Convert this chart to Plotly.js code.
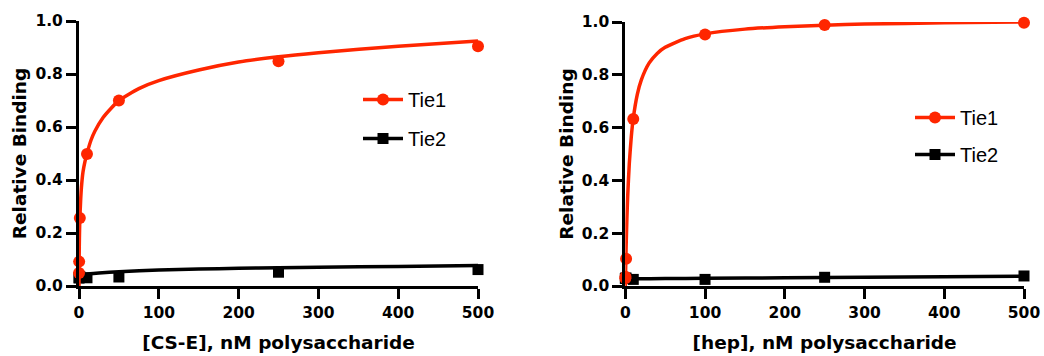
<!DOCTYPE html>
<html>
<head>
<meta charset="utf-8">
<script src="https://cdn.plot.ly/plotly-3.0.1.min.js"></script>
<style>html,body{margin:0;padding:0;background:#fff;}#chart{width:1044px;height:356px;}</style>
</head>
<body>
<div id="chart"></div>
<script>
// ---------- Data ----------
const seriesNames = ["Tie1", "Tie2"];
const xTicks = [0, 100, 200, 300, 400, 500];
const yTicks = [0.0, 0.2, 0.4, 0.6, 0.8, 1.0];

// Left panel: [CS-E]
const csX = [0.05, 0.2, 1, 10, 50, 250, 500];
const csTie1 = [0.049, 0.092, 0.257, 0.498, 0.700, 0.848, 0.905];
const csTie2 = [0.030, 0.032, 0.035, 0.031, 0.034, 0.052, 0.062];
// fitted curves
const csFitX1 = [0, 0.25, 0.5, 1, 2, 3, 5, 7.5, 10, 15, 20, 30, 40, 50, 75, 100, 150, 200, 250, 300, 400, 500];
const csFitTie1 = [0, 0.12, 0.18, 0.25, 0.32, 0.37, 0.43, 0.47, 0.50, 0.55, 0.585, 0.635, 0.67, 0.70, 0.745, 0.775, 0.815, 0.845, 0.865, 0.88, 0.905, 0.925];
const csFitX2 = [0, 1, 5, 10, 25, 50, 100, 150, 200, 250, 300, 400, 500];
const csFitTie2 = [0.032, 0.040, 0.043, 0.045, 0.049, 0.054, 0.060, 0.064, 0.067, 0.069, 0.071, 0.074, 0.077];

// Right panel: [hep]
const hepX = [0.05, 0.2, 1, 10, 100, 250, 500];
const hepTie1 = [0.029, 0.035, 0.103, 0.633, 0.953, 0.989, 0.997];
const hepTie2 = [0.029, 0.029, 0.030, 0.025, 0.025, 0.033, 0.038];
const hepFitX1 = [0, 1, 2, 3, 5, 7.5, 10, 15, 20, 30, 40, 50, 75, 100, 150, 200, 250, 300, 400, 500];
const hepFitTie1 = [0, 0.146, 0.255, 0.340, 0.463, 0.565, 0.635, 0.725, 0.780, 0.845, 0.881, 0.904, 0.937, 0.955, 0.973, 0.982, 0.988, 0.992, 0.997, 1.0];
const hepFitX2 = [0, 10, 50, 100, 200, 300, 400, 500];
const hepFitTie2 = [0.026, 0.027, 0.028, 0.029, 0.031, 0.033, 0.035, 0.037];

const xTitles = ["[CS-E], nM polysaccharide", "[hep], nM polysaccharide"];
const yTitle = "Relative Binding";

// ---------- Styles ----------
const RED = "rgb(255,38,0)";
const BLACK = "#000000";
const boldFont = {family: "DejaVu Sans", size: 15.5, color: "#000", weight: 700};
const titleFont = {family: "DejaVu Sans", size: 18.5, color: "#000", weight: 700};
const legendFont = {family: "Liberation Sans, Arial", size: 20, color: "#000"};

function panelTraces(xa, ya, leg, dx, d1, d2, fx1, f1, fx2, f2) {
  return [
    {x: fx2, y: f2, xaxis: xa, yaxis: ya, mode: "lines", line: {color: BLACK, width: 3.5, shape: "spline", smoothing: 0.6}, showlegend: false, cliponaxis: false, hoverinfo: "skip"},
    {x: dx, y: d2, xaxis: xa, yaxis: ya, mode: "markers", marker: {symbol: "square", size: 11, color: BLACK}, showlegend: false, cliponaxis: false},
    {x: fx1, y: f1, xaxis: xa, yaxis: ya, mode: "lines", line: {color: RED, width: 3.5, shape: "spline", smoothing: 0.6}, showlegend: false, cliponaxis: false, hoverinfo: "skip"},
    {x: dx, y: d1, xaxis: xa, yaxis: ya, mode: "markers", marker: {symbol: "circle", size: 12, color: RED}, showlegend: false, cliponaxis: false},
    // legend entries (line + marker), bound to the same series names
    {x: [null], y: [null], xaxis: xa, yaxis: ya, mode: "lines+markers", name: seriesNames[0], legend: leg, legendgroup: leg + "a",
     line: {color: RED, width: 3.5}, marker: {symbol: "circle", size: 12, color: RED}},
    {x: [null], y: [null], xaxis: xa, yaxis: ya, mode: "lines+markers", name: seriesNames[1], legend: leg, legendgroup: leg + "b",
     line: {color: BLACK, width: 3.5}, marker: {symbol: "square", size: 11, color: BLACK}}
  ];
}

const data = [].concat(
  panelTraces("x", "y", "legend", csX, csTie1, csTie2, csFitX1, csFitTie1, csFitX2, csFitTie2),
  panelTraces("x2", "y2", "legend2", hepX, hepTie1, hepTie2, hepFitX1, hepFitTie1, hepFitX2, hepFitTie2)
);

function xAxis(domain, title, anchor) {
  return {
    domain: domain, anchor: anchor, range: [0, 500], tickvals: xTicks, ticktext: xTicks.map(String),
    showgrid: false, zeroline: false, showline: true, linecolor: "#000", linewidth: 3,
    ticks: "outside", ticklen: 10, tickwidth: 3, tickcolor: "#000", tickfont: boldFont,
    title: {text: title, font: titleFont, standoff: 16}, fixedrange: true
  };
}
function yAxis(domain, anchor) {
  return {
    domain: domain, anchor: anchor, range: [0, 1], tickvals: yTicks, ticktext: yTicks.map(v => v.toFixed(1)),
    showgrid: false, zeroline: false, showline: true, linecolor: "#000", linewidth: 3,
    ticks: "outside", ticklen: 10, tickwidth: 3, tickcolor: "#000", tickfont: boldFont,
    title: {text: yTitle, font: titleFont, standoff: 4}, fixedrange: true
  };
}

const W = 1044, H = 356;
const layout = {
  width: W, height: H,
  margin: {l: 0, r: 0, t: 0, b: 0},
  paper_bgcolor: "#fff", plot_bgcolor: "#fff",
  xaxis: xAxis([79 / W, 478 / W], xTitles[0], "y"),
  yaxis: yAxis([(H - 286) / H, (H - 21) / H], "x"),
  xaxis2: xAxis([625.3 / W, 1024 / W], xTitles[1], "y2"),
  yaxis2: yAxis([(H - 286) / H, (H - 22) / H], "x2"),
  legend: {x: 358 / W, y: (H - 80) / H, xanchor: "left", yanchor: "top", font: legendFont, tracegroupgap: 10, bgcolor: "rgba(0,0,0,0)", itemwidth: 40},
  legend2: {x: 910 / W, y: (H - 98) / H, xanchor: "left", yanchor: "top", font: legendFont, tracegroupgap: 8, bgcolor: "rgba(0,0,0,0)", itemwidth: 40},
  showlegend: true
};

Plotly.newPlot("chart", data, layout, {staticPlot: true, displayModeBar: false});
</script>
</body>
</html>
